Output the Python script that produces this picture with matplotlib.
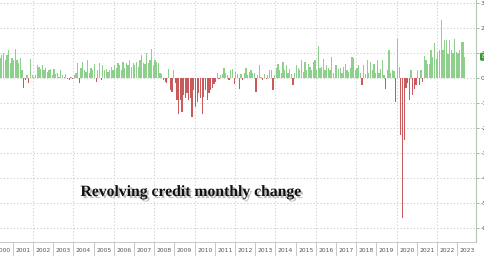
import numpy as np
import matplotlib
matplotlib.use("Agg")
import matplotlib.pyplot as plt
import matplotlib.patheffects as pe

# monthly change in revolving consumer credit, $bn, Jan 2000 onwards
y2000 = [6, 8, 5, 7, 8, 9, 10, 7, 9, 11, 6, 8]
y2001 = [7, 11.5, 7, 6, 8, 3, -4, -1, 1, -2, 7.5, 1]
y2002 = [0.5, 1, 5, 4.5, 3.5, 5, 3, 4, 2.5, 3, 3.5, 1]
y2003 = [3.5, 1.5, 2, 0.5, 3, 1, 0.5, 1.5, -0.5, -1, 0.5, -0.3]
y2004 = [1, 2, 6, -2, 4, 6.5, 3, 2.5, 7, 2, 4, 3]
y2005 = [5.7, -1.5, 3, 6, -1, 5, 3, 3.5, 2.5, 3, 4.5, 3]
y2006 = [5, 4, 6, 5, 3, 6.5, 4, 6, 5, 7, 4.5, 6]
y2007 = [5, 6.5, 4.5, 7, 9, 6, 5.5, 9.8, 6, 7, 11.7, 5]
y2008 = [7, 6.4, 6, 2, 1.5, -1, -1.5, -2, 3.7, -5, -5.5, 3.3]
y2009 = [-2, -9, -14.5, -9, -13.6, -7, -8, -6, -9, -8, -15.7, -5]
y2010 = [-11.6, -9.6, -6, -8, -14.3, -7.6, -5, -9, -6, -5, -4, -2.3]
y2011 = [-1.6, 2, -0.5, 1, 1.5, 4, 2, 1, -1, 3, 3.7, -2.3]
y2012 = [2.4, 1.5, -4.3, 1.5, -1, 2, 4, 1, 2.5, 3, 2, 2]
y2013 = [-5.6, 1, 5.3, 0.5, -1, 1.5, -0.5, 1, 3.3, 3, -4.7, 1]
y2014 = [4, 5.7, 3, 2, 6.4, 3, 5, 2, 3.5, 1.5, -2.7, 2]
y2015 = [5, 4, 3, 7, 2.5, 6.4, 3, 5.7, 4.5, 3, 6.5, 7]
y2016 = [3, 12.7, 4, 4.5, 7.7, 3, 5, 4, 3, 8.4, 2, 5]
y2017 = [5, 3.5, 4, 2, 4.5, 5.7, 3, 2.5, 4, 8.4, 8, 3]
y2018 = [4, 5, 2, -3, 5, 1.5, 7, 2, 6.4, 3, 5.7, 2]
y2019 = [7, 2, 3.7, 7, 1, -4.3, 3, 11, 2, 3, 2.8, -9.6]
y2020 = [15.7, 4.4, -23, -56, -25, -4, -2, -9, 3, -7, -4.3, -3]
y2021 = [3, -3, 3, -1.6, 8.7, 7, 5.7, 5.7, 11, 8.4, 14, 7.7]
y2022 = [10.4, 11, 23.3, 11, 15, 15, 9.7, 15, 11, 10, 15.7, 10.5]
y2023 = [10, 11, 14.2, 14.2, 8.4]

changes = np.array(y2000 + y2001 + y2002 + y2003 + y2004 + y2005 + y2006 + y2007
                   + y2008 + y2009 + y2010 + y2011 + y2012 + y2013 + y2014 + y2015
                   + y2016 + y2017 + y2018 + y2019 + y2020 + y2021 + y2022 + y2023)
years = list(range(2000, 2024))
yticks = [30, 20, 10, 0, -10, -20, -30, -40, -50, -60]

months = 2000 + (np.arange(len(changes)) + 0.5) / 12
green = '#8cd08c'
red = '#c95a5c'
colors = [green if v >= 0 else red for v in changes]

fig = plt.figure(figsize=(4.85, 2.56), dpi=100)
ax = fig.add_axes([0, 14 / 256, 476 / 485, 242 / 256])

ax.bar(months, changes, width=0.75 / 12, color=colors, linewidth=0)

ax.set_xlim(2000.366, 2023.93)
ax.set_ylim(-65.7, 31.1)

# dotted grid
ax.set_yticks(yticks)
for v in yticks:
    ax.axhline(v, color='#cccccc', lw=0.8, ls=(0, (1, 2)), zorder=0)
for yr in range(2002, 2024, 2):
    ax.axvline(yr, color='#cccccc', lw=0.8, ls=(0, (1, 2)), zorder=0)

# right axis
ax.yaxis.tick_right()
ax.set_yticklabels([str(v) for v in yticks])
ax.tick_params(axis='y', direction='out', length=2, width=0.6, color='#9aaa9a',
               labelsize=4.5, labelcolor='#555555', pad=1.5)
for s in ['top', 'left', 'bottom']:
    ax.spines[s].set_visible(False)
ax.spines['right'].set_color('#b5c5b5')
ax.spines['right'].set_linewidth(0.8)

# year cells along the bottom
ax.set_xticks([y + 0.5 for y in years])
ax.set_xticklabels([str(y) for y in years])
ax.set_xticks(years[1:], minor=True)
ax.tick_params(axis='x', which='major', length=0, labelsize=4.3,
               labelcolor='#555555', pad=4)
ax.tick_params(axis='x', which='minor', direction='out', length=10,
               width=0.6, color='#c0c0c0')
ax.axhline(-65.7, color='#c0c0c0', lw=0.6, clip_on=False)

# last value tag
last = changes[-1]
ax.annotate(f'{last:.1f}', xy=(1.0, last), xycoords=('axes fraction', 'data'),
            xytext=(4, 0), textcoords='offset points', va='center', ha='left',
            fontsize=4.5, color='white', annotation_clip=False,
            bbox=dict(boxstyle='round,pad=0.25', fc='#3a9a3a', ec='none'))

ax.text(2004.35, -47.3, 'Revolving credit monthly change', family='Liberation Serif',
        fontweight='bold', fontsize=11.3, color='#111111', va='baseline',
        path_effects=[pe.withSimplePatchShadow(offset=(1.5, -1.5),
                                               shadow_rgbFace='#888888', alpha=0.55)])

fig.savefig('out.png', dpi=100)
